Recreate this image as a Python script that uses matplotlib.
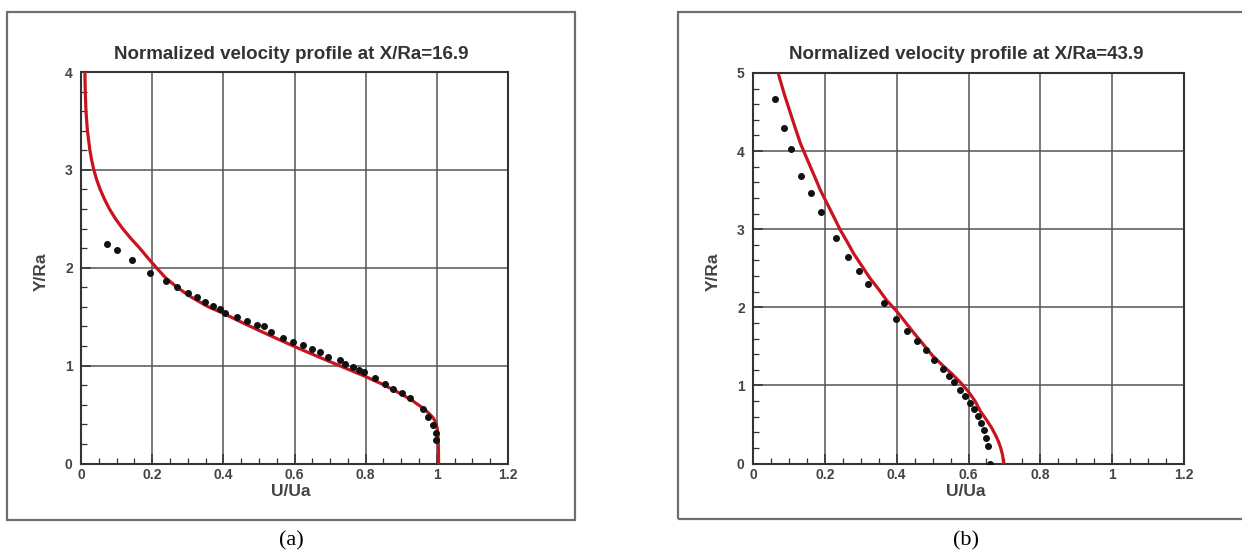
import matplotlib.pyplot as plt
from matplotlib.patches import Rectangle
from matplotlib.ticker import MultipleLocator

# profile at X/Ra = 16.9
a_model_u = [0.011, 0.012, 0.014, 0.018, 0.025, 0.030, 0.036, 0.044, 0.054, 0.066,
             0.080, 0.097, 0.117, 0.140, 0.165, 0.188, 0.212, 0.237, 0.270, 0.310,
             0.358, 0.400, 0.450, 0.500, 0.550, 0.600, 0.650, 0.700, 0.750, 0.800,
             0.850, 0.900, 0.930, 0.952, 0.968, 0.980, 0.990, 0.997, 1.001, 1.004,
             1.005]
a_model_y = [4.00, 3.80, 3.60, 3.40, 3.20, 3.10, 3.00, 2.90, 2.80, 2.70,
             2.60, 2.50, 2.40, 2.30, 2.20, 2.10, 2.00, 1.90, 1.80, 1.70,
             1.60, 1.535, 1.445, 1.36, 1.277, 1.195, 1.117, 1.04, 0.964, 0.888,
             0.805, 0.71, 0.645, 0.59, 0.545, 0.505, 0.465, 0.42, 0.36, 0.25,
             0.00]
a_exp_u = [0.072, 0.102, 0.142, 0.194, 0.239, 0.270, 0.301, 0.327, 0.348, 0.372,
           0.392, 0.405, 0.439, 0.467, 0.494, 0.514, 0.534, 0.567, 0.597, 0.625,
           0.648, 0.672, 0.695, 0.728, 0.742, 0.763, 0.780, 0.794, 0.826, 0.855,
           0.878, 0.902, 0.925, 0.962, 0.976, 0.990, 0.998, 0.999]
a_exp_y = [2.245, 2.18, 2.08, 1.95, 1.866, 1.80, 1.74, 1.706, 1.655, 1.614,
           1.576, 1.536, 1.495, 1.46, 1.416, 1.40, 1.348, 1.28, 1.246, 1.212,
           1.171, 1.137, 1.092, 1.058, 1.017, 0.983, 0.956, 0.939, 0.877, 0.813,
           0.762, 0.724, 0.667, 0.554, 0.479, 0.394, 0.309, 0.24]

# profile at X/Ra = 43.9
b_model_u = [0.070, 0.087, 0.104, 0.118, 0.132, 0.155, 0.172, 0.1875, 0.215, 0.243,
             0.262, 0.28, 0.303, 0.326, 0.350, 0.372, 0.40, 0.425, 0.45, 0.475,
             0.50, 0.527, 0.554, 0.578, 0.60, 0.618, 0.633, 0.649, 0.663, 0.674,
             0.683, 0.690, 0.695, 0.698]
b_model_y = [5.00, 4.73, 4.49, 4.29, 4.10, 3.85, 3.67, 3.50, 3.25, 2.99,
             2.84, 2.69, 2.53, 2.37, 2.23, 2.09, 1.95, 1.805, 1.66, 1.52,
             1.38, 1.26, 1.147, 1.035, 0.92, 0.80, 0.67, 0.565, 0.467, 0.375,
             0.286, 0.195, 0.104, 0.00]
b_exp_u = [0.060, 0.085, 0.106, 0.135, 0.161, 0.190, 0.231, 0.265, 0.294, 0.320,
           0.364, 0.398, 0.430, 0.457, 0.482, 0.505, 0.529, 0.546, 0.561, 0.577,
           0.5905, 0.6035, 0.615, 0.627, 0.636, 0.644, 0.650, 0.654, 0.659]
b_exp_y = [4.67, 4.29, 4.025, 3.676, 3.468, 3.22, 2.89, 2.65, 2.46, 2.30,
           2.05, 1.85, 1.70, 1.564, 1.45, 1.328, 1.215, 1.124, 1.043, 0.943,
           0.861, 0.77, 0.694, 0.603, 0.521, 0.43, 0.33, 0.227, 0.0]

W, H = 1242, 554
fig = plt.figure(figsize=(W / 100, H / 100), dpi=100)
fig.patch.set_facecolor('white')
plt.rcParams['font.family'] = ['Liberation Sans', 'DejaVu Sans']


def px(x, y):
    return x / W, 1 - y / H


def frame(x0, y0, x1, y1):
    fig.patches.append(Rectangle(px(x0, y1), (x1 - x0) / W, (y1 - y0) / H,
                                 transform=fig.transFigure, fill=False,
                                 edgecolor='#6e6e6e', lw=1.6, zorder=0))


def panel(rect, mu, my, eu, ey, ymax, title, cx, caption):
    l, t, r, b = rect
    ax = fig.add_axes([l / W, 1 - b / H, (r - l) / W, (b - t) / H])
    ax.plot(mu, my, color='#c8141e', lw=2.3, zorder=3, solid_joinstyle='round')
    ax.plot(eu, ey, 'o', color='#111111', ms=4, zorder=4)
    ax.set_xlim(0, 1.2)
    ax.set_ylim(0, ymax)
    ax.xaxis.set_major_locator(MultipleLocator(0.2))
    ax.xaxis.set_minor_locator(MultipleLocator(0.05))
    ax.yaxis.set_major_locator(MultipleLocator(1))
    ax.yaxis.set_minor_locator(MultipleLocator(0.2))
    ax.set_xticks([0, 0.2, 0.4, 0.6, 0.8, 1.0, 1.2])
    ax.set_xticklabels(['0', '0.2', '0.4', '0.6', '0.8', '1', '1.2'])
    ax.grid(True, which='major', color='#555555', lw=1.1)
    ax.tick_params(which='both', direction='in', color='#333333',
                   labelsize=10, labelcolor='#444444')
    ax.tick_params(which='major', length=7, width=1.1)
    ax.tick_params(which='minor', length=4, width=0.9)
    ax.tick_params(axis='x', pad=3)
    ax.tick_params(axis='y', pad=6)
    for lab in ax.get_xticklabels() + ax.get_yticklabels():
        lab.set_fontweight('bold')
    for s in ax.spines.values():
        s.set_color('#333333')
        s.set_linewidth(1.5)
    fig.text(cx / W, 1 - 54 / H, title, ha='center', va='center',
             fontsize=13.5, fontweight='bold', color='#333333')
    fig.text(cx / W, 1 - 492 / H, 'U/Ua', ha='center', va='center',
             fontsize=12.5, fontweight='bold', color='#444444')
    fig.text((l - 40) / W, 1 - 272 / H, 'Y/Ra', ha='center', va='center',
             rotation=90, fontsize=12.5, fontweight='bold', color='#444444')
    fig.text(cx / W, 1 - 541 / H, caption, ha='center', va='center',
             fontsize=16, family='Liberation Serif', color='black')
    return ax


frame(7, 12, 575, 520)
frame(678, 12, 1250, 519)

panel((81, 72, 508, 463.5), a_model_u, a_model_y, a_exp_u, a_exp_y, 4,
      'Normalized velocity profile at X/Ra=16.9', 291, '(a)')
panel((753, 73, 1184, 463.5), b_model_u, b_model_y, b_exp_u, b_exp_y, 5,
      'Normalized velocity profile at X/Ra=43.9', 966, '(b)')

fig.savefig('out.png', dpi=100)
